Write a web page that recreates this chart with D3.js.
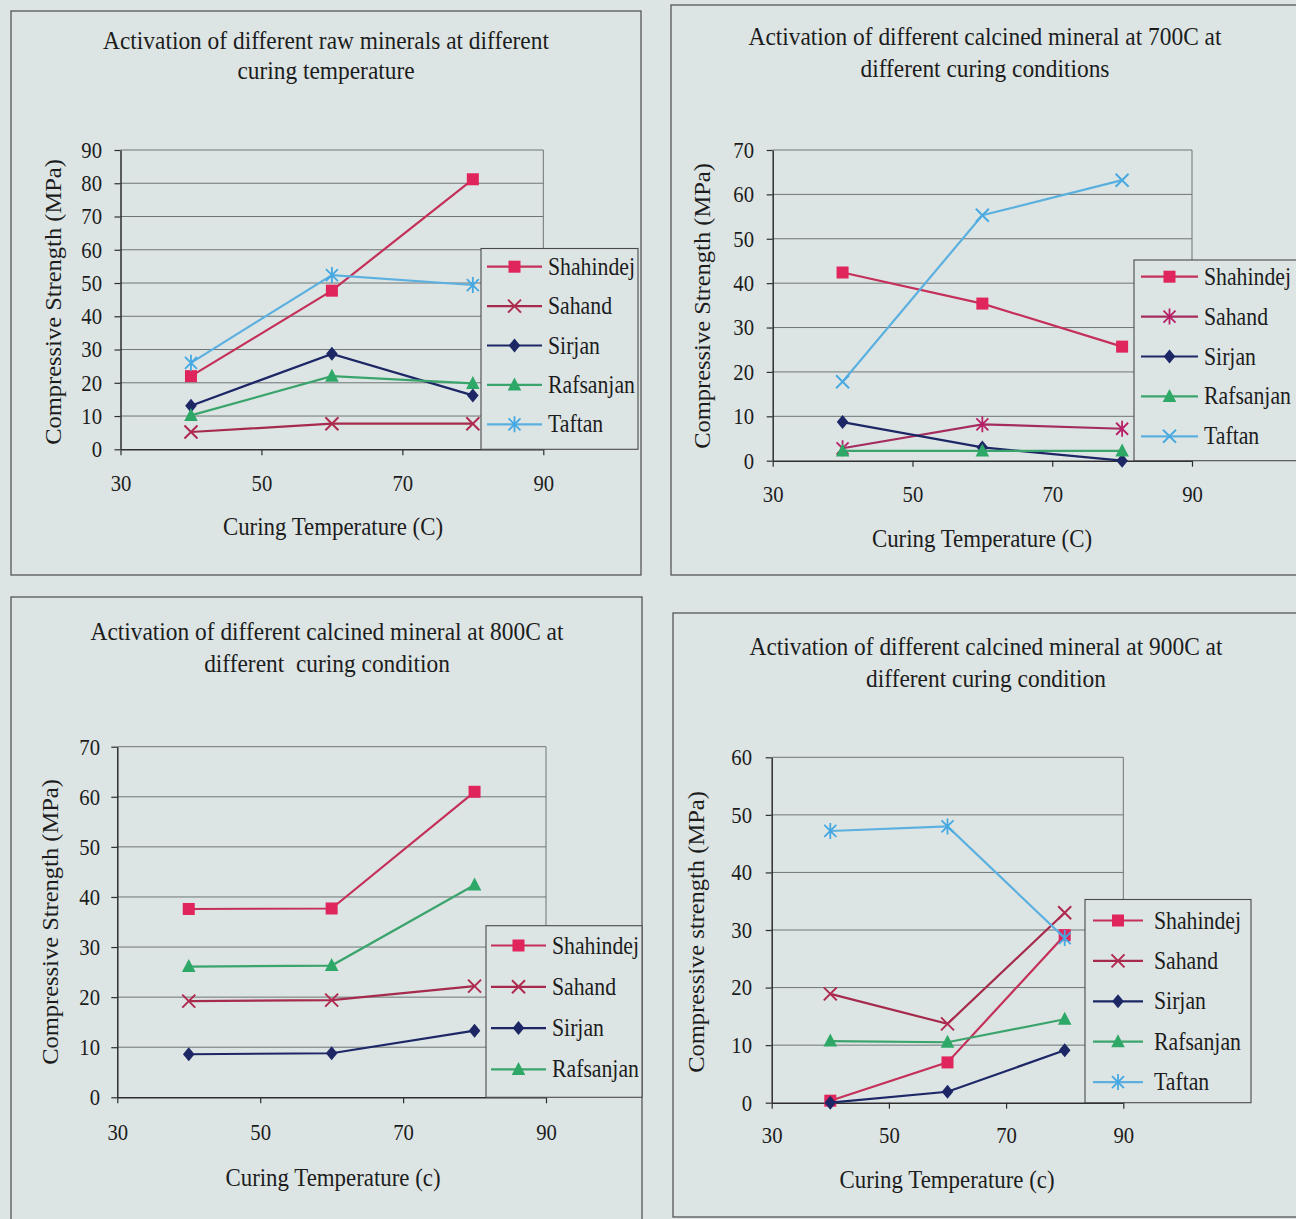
<!DOCTYPE html>
<html>
<head>
<meta charset="utf-8">
<script src="https://cdn.jsdelivr.net/npm/d3@7"></script>
<style>
  html, body { margin: 0; padding: 0; background: #dce5e4; }
  svg { display: block; }
  text { font-family: "Liberation Serif", "Times New Roman", serif; fill: #1c1c1c; }
</style>
</head>
<body>
<svg id="fig" width="1296" height="1219"></svg>
<script>
// Curing temperatures (C) at which each mineral was tested
const temps = [40, 60, 80];
const xTickValues = [30, 50, 70, 90];

// Compressive strength (MPa) — raw minerals
const rawShahindej = [22.0, 47.7, 81.2];
const rawSahand    = [5.2, 7.7, 7.7];
const rawSirjan    = [13.1, 28.7, 16.2];
const rawRafsanjan = [10.2, 22.0, 19.8];
const rawTaftan    = [26.0, 52.4, 49.4];

// Calcined at 700C
const c700Shahindej = [42.4, 35.4, 25.7];
const c700Sahand    = [2.8, 8.2, 7.2];
const c700Sirjan    = [8.7, 3.0, 0.0];
const c700Rafsanjan = [2.2, 2.2, 2.2];
const c700Taftan    = [17.8, 55.3, 63.2];

// Calcined at 800C
const c800Shahindej = [37.6, 37.7, 61.0];
const c800Sahand    = [19.2, 19.4, 22.2];
const c800Sirjan    = [8.6, 8.8, 13.3];
const c800Rafsanjan = [26.1, 26.3, 42.4];

// Calcined at 900C
const c900Shahindej = [0.35, 7.0, 29.1];
const c900Sahand    = [18.9, 13.7, 33.0];
const c900Sirjan    = [0.0, 1.9, 9.1];
const c900Rafsanjan = [10.7, 10.5, 14.5];
const c900Taftan    = [47.2, 48.0, 28.6];

// Series styling
const style = {
  Shahindej: { line: "#c4305a", mark: "#e0245c", shape: "square" },
  Sahand:    { line: "#a62a4c", mark: "#b02a50", shape: "cross" },
  Sirjan:    { line: "#1d2766", mark: "#1d2766", shape: "diamond" },
  Rafsanjan: { line: "#3ba46c", mark: "#2ea866", shape: "triangle" },
  Taftan:    { line: "#5cb0e0", mark: "#45a8e2", shape: "asterisk" }
};

// Text is set in a slightly condensed serif
const SX = 0.9;

const panels = [
  {
    title: ["Activation of different raw minerals at different", "curing temperature"],
    titleX: 326, titleY: [49, 79],
    frame: { x: 11, y: 11, w: 630, h: 564 },
    plot: { l: 120.5, r: 543.3, t: 150, b: 449.3 },
    yMax: 90,
    yTitle: "Compressive Strength (MPa)", yTitleX: 61, yTitleY: 302,
    xTitle: "Curing Temperature (C)", xTitleX: 333, xTitleY: 535,
    yLabelRight: 102, xLabelBase: 491,
    legend: { x: 481, y: 248.5, w: 157, row0: 266.7, step: 39.4, l0: 487, l1: 542, tx: 548 },
    series: [
      ["Shahindej", rawShahindej], ["Sahand", rawSahand], ["Sirjan", rawSirjan],
      ["Rafsanjan", rawRafsanjan], ["Taftan", rawTaftan]
    ]
  },
  {
    title: ["Activation of different calcined mineral at 700C at", "different curing conditions"],
    titleX: 985, titleY: [45, 77],
    frame: { x: 671, y: 5, w: 660, h: 570 },
    plot: { l: 772.7, r: 1192, t: 150, b: 460.7 },
    yMax: 70,
    yTitle: "Compressive Strength (MPa)", yTitleX: 710, yTitleY: 306,
    xTitle: "Curing Temperature (C)", xTitleX: 982, xTitleY: 547,
    yLabelRight: 754, xLabelBase: 502,
    legend: { x: 1134, y: 260, w: 180, row0: 276.7, step: 39.9, l0: 1141, l1: 1198, tx: 1204 },
    series: [
      ["Shahindej", c700Shahindej],
      ["Sahand", c700Sahand, { line: "#a42d5e", mark: "#b82068", shape: "asterisk" }],
      ["Sirjan", c700Sirjan], ["Rafsanjan", c700Rafsanjan],
      ["Taftan", c700Taftan, { line: "#5cb0e0", mark: "#4aaae0", shape: "cross" }]
    ]
  },
  {
    title: ["Activation of different calcined mineral at 800C at", "different  curing condition"],
    titleX: 327, titleY: [640, 672],
    frame: { x: 11, y: 597, w: 631, h: 640 },
    plot: { l: 117.3, r: 546, t: 746.7, b: 1097.3 },
    yMax: 70,
    yTitle: "Compressive Strength (MPa)", yTitleX: 58, yTitleY: 922,
    xTitle: "Curing Temperature (c)", xTitleX: 333, xTitleY: 1186,
    yLabelRight: 100, xLabelBase: 1140,
    legend: { x: 486, y: 925.7, w: 156, row0: 945.5, step: 41.3, l0: 491, l1: 546, tx: 552 },
    series: [
      ["Shahindej", c800Shahindej], ["Sahand", c800Sahand],
      ["Sirjan", c800Sirjan], ["Rafsanjan", c800Rafsanjan]
    ]
  },
  {
    title: ["Activation of different calcined mineral at 900C at", "different curing condition"],
    titleX: 986, titleY: [655, 687],
    frame: { x: 673, y: 613, w: 660, h: 604 },
    plot: { l: 771.7, r: 1123.3, t: 757.3, b: 1102.7 },
    yMax: 60,
    yTitle: "Compressive strength (MPa)", yTitleX: 704, yTitleY: 932,
    xTitle: "Curing Temperature (c)", xTitleX: 947, xTitleY: 1188,
    yLabelRight: 752, xLabelBase: 1143,
    legend: { x: 1085, y: 899.5, w: 166, row0: 920.5, step: 40.4, l0: 1093, l1: 1143, tx: 1154 },
    series: [
      ["Shahindej", c900Shahindej], ["Sahand", c900Sahand], ["Sirjan", c900Sirjan],
      ["Rafsanjan", c900Rafsanjan], ["Taftan", c900Taftan]
    ]
  }
];

const svg = d3.select("#fig");
const BG = "#dce5e4";

function addText(g, x, y, str, size, anchor, sx) {
  return g.append("text")
    .attr("transform", `translate(${x},${y}) scale(${sx},1)`)
    .attr("text-anchor", anchor || "start")
    .attr("font-size", size)
    .style("white-space", "pre")
    .text(str);
}

function drawMarker(g, shape, cx, cy, color) {
  const m = g.append("g").attr("transform", `translate(${cx},${cy})`);
  if (shape === "square") {
    m.append("rect").attr("x", -6).attr("y", -6).attr("width", 12).attr("height", 12)
      .attr("fill", color);
  } else if (shape === "diamond") {
    m.append("path").attr("d", "M0,-7L5.8,0L0,7L-5.8,0Z").attr("fill", color);
  } else if (shape === "triangle") {
    m.append("path").attr("d", "M0,-7.5L6.8,5.5L-6.8,5.5Z").attr("fill", color);
  } else if (shape === "cross") {
    m.append("path").attr("d", "M-6.5,-6.5L6.5,6.5M-6.5,6.5L6.5,-6.5")
      .attr("stroke", color).attr("stroke-width", 2).attr("fill", "none");
  } else if (shape === "asterisk") {
    m.append("path").attr("d", "M-6,-6L6,6M-6,6L6,-6M0,-8L0,8")
      .attr("stroke", color).attr("stroke-width", 1.8).attr("fill", "none");
  }
}

panels.forEach(p => {
  const g = svg.append("g");
  const { l, r, t, b } = p.plot;

  // Chart frame
  g.append("rect")
    .attr("x", p.frame.x).attr("y", p.frame.y)
    .attr("width", p.frame.w).attr("height", p.frame.h)
    .attr("fill", BG).attr("stroke", "#4a4a4a").attr("stroke-width", 1.2);

  const x = d3.scaleLinear().domain([30, 90]).range([l, r]);
  const y = d3.scaleLinear().domain([0, p.yMax]).range([b, t]);
  const yTicks = d3.range(0, p.yMax + 1, 10);

  // Horizontal gridlines and right edge of the plot area
  g.append("g").selectAll("line")
    .data(yTicks.filter(v => v > 0))
    .join("line")
    .attr("x1", l).attr("x2", r)
    .attr("y1", d => y(d)).attr("y2", d => y(d))
    .attr("stroke", "#6f7474").attr("stroke-width", 1);
  g.append("line")
    .attr("x1", r).attr("x2", r).attr("y1", t).attr("y2", b)
    .attr("stroke", "#6f7474").attr("stroke-width", 1);

  // Axes
  const tickFs = 23;
  const yAxis = d3.axisLeft(y).tickValues(yTicks).tickSize(6).tickSizeOuter(0)
    .tickPadding(l - p.yLabelRight - 6);
  const yg = g.append("g").attr("transform", `translate(${l},0)`).call(yAxis);
  const xPad = p.xLabelBase - b - 6 - 0.71 * tickFs;
  const xAxis = d3.axisBottom(x).tickValues(xTickValues).tickSize(6).tickSizeOuter(0)
    .tickPadding(xPad);
  const xg = g.append("g").attr("transform", `translate(0,${b})`).call(xAxis);
  [yg, xg].forEach(a => {
    a.attr("font-family", null);
    a.select(".domain").attr("stroke", "#2e2e2e").attr("stroke-width", 1.5);
    a.selectAll(".tick line").attr("stroke", "#2e2e2e").attr("stroke-width", 1.2);
    a.selectAll(".tick text")
      .attr("font-size", tickFs).attr("fill", "#1c1c1c")
      .attr("x", function () { return (+d3.select(this).attr("x") || 0) / SX; })
      .attr("transform", `scale(${SX},1)`);
  });

  // Series lines and markers
  p.series.forEach(([name, values, over]) => {
    const s = over || style[name];
    const line = d3.line().x((d, i) => x(temps[i])).y(d => y(d));
    g.append("path").datum(values)
      .attr("d", line).attr("fill", "none")
      .attr("stroke", s.line).attr("stroke-width", 2.2);
    values.forEach((v, i) => drawMarker(g, s.shape, x(temps[i]), y(v), s.mark));
  });

  // Legend
  const lg = p.legend;
  g.append("rect")
    .attr("x", lg.x).attr("y", lg.y)
    .attr("width", lg.w).attr("height", b - lg.y)
    .attr("fill", BG).attr("stroke", "#4a4a4a").attr("stroke-width", 1.1);
  p.series.forEach(([name, values, over], i) => {
    const s = over || style[name];
    const ry = lg.row0 + i * lg.step;
    g.append("line")
      .attr("x1", lg.l0).attr("x2", lg.l1).attr("y1", ry).attr("y2", ry)
      .attr("stroke", s.line).attr("stroke-width", 2.2);
    drawMarker(g, s.shape, (lg.l0 + lg.l1) / 2, ry, s.mark);
    addText(g, lg.tx, ry + 8, name, 25, "start", 0.87);
  });

  // Titles
  p.title.forEach((line, i) => addText(g, p.titleX, p.titleY[i], line, 26, "middle", SX));
  g.append("text")
    .attr("transform", `translate(${p.yTitleX},${p.yTitleY}) rotate(-90) scale(1,0.92)`)
    .attr("text-anchor", "middle").attr("font-size", 24.5)
    .text(p.yTitle);
  addText(g, p.xTitleX, p.xTitleY, p.xTitle, 26, "middle", 0.88);
});
</script>
</body>
</html>
